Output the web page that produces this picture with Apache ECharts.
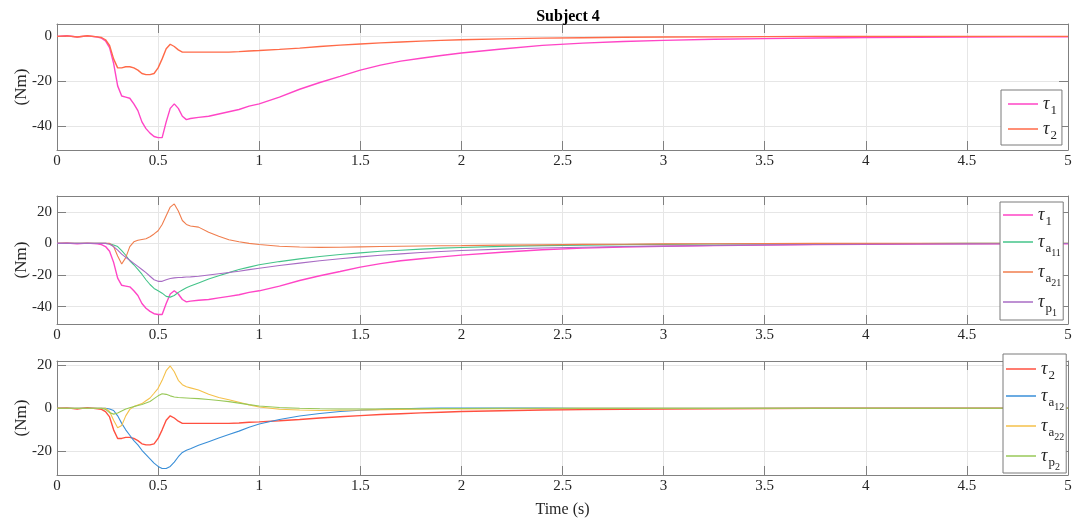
<!DOCTYPE html>
<html><head><meta charset="utf-8">
<script src="https://cdn.jsdelivr.net/npm/echarts@6.0.0/dist/echarts.min.js"></script>
<style>html,body{margin:0;padding:0;background:#fff}#c{width:1074px;height:523px}</style>
</head><body><div id="c"></div>
<script>
// time samples (s)
const T = [0,0.05,0.1,0.15,0.2,0.22,0.24,0.26,0.28,0.3,0.32,0.34,0.36,0.38,0.4,0.42,0.44,0.46,0.48,0.5,0.52,0.54,0.56,0.58,0.6,0.62,0.64,0.66,0.7,0.75,0.8,0.85,0.9,0.95,1.0,1.1,1.2,1.3,1.4,1.5,1.6,1.7,1.8,1.9,2.0,2.2,2.4,2.6,2.8,3.0,3.25,3.5,3.75,4.0,4.25,4.5,4.75,5.0];
// torques (Nm)
const tau1 = [0,0.3,-0.3,0.2,-0.3,-0.8,-2,-5,-12,-22,-26.5,-27,-27.5,-30,-33,-38,-41,-43,-44.5,-45,-45,-38,-32,-30,-32,-35.5,-37,-36.5,-36,-35.5,-34.5,-33.5,-32.5,-31,-30,-27,-23.5,-20.5,-17.8,-15,-12.8,-11,-9.7,-8.5,-7.4,-5.6,-4,-3,-2.3,-1.8,-1.3,-1,-0.7,-0.5,-0.4,-0.3,-0.2,-0.2];
const tau2 = [0,0.2,-0.3,0.3,-0.2,-0.5,-1.5,-4,-10,-14,-14,-13.5,-13.5,-14,-15,-16.5,-17,-17,-16.5,-14,-10,-5.5,-3.5,-4.5,-6,-7,-7,-7,-7,-7,-7,-7,-6.8,-6.5,-6.3,-5.8,-5.2,-4.5,-3.9,-3.4,-2.9,-2.5,-2.1,-1.8,-1.5,-1.1,-0.8,-0.6,-0.4,-0.3,-0.2,-0.1,0,0,0,0,0,0];
const tauA11 = [0,0,0,0,0,0,0,-0.2,-1,-2,-4.5,-7.5,-11,-13.5,-16.5,-19.5,-23,-26,-28.5,-30,-31.5,-33.5,-34,-33,-31,-29.5,-28,-27,-25,-22.5,-20.5,-18.5,-16.5,-15,-13.5,-11.5,-9.8,-8.3,-7,-6,-5,-4.3,-3.6,-3,-2.6,-1.9,-1.4,-1.1,-0.8,-0.6,-0.4,-0.3,-0.2,-0.1,-0.1,0,0,0];
const tauA21 = [0,0,0,0,0,0,0,0,-2,-8,-13,-9,-2,1,2,2.5,3,4.2,6,8,12,17.5,23,25,20.5,14.5,12,11,10.3,7,4.5,2.3,1,0,-0.7,-1.8,-2.3,-2.5,-2.4,-2.2,-2,-1.8,-1.6,-1.5,-1.4,-1.1,-0.9,-0.6,-0.5,-0.3,-0.2,-0.1,0,0,0,0,0,0];
const tauP1 = [0,0,0,0,0,0,0,-0.5,-2,-4.2,-6.8,-8.8,-10.7,-12.6,-14.5,-16.5,-18.5,-20.8,-23,-24,-24,-23,-22.2,-21.8,-21.6,-21.5,-21.3,-21.2,-20.8,-20,-19.2,-18.4,-17.6,-16.6,-15.7,-14,-12.5,-11,-9.7,-8.5,-7.5,-6.6,-5.8,-5.1,-4.5,-3.6,-2.9,-2.4,-2,-1.7,-1.3,-1,-0.7,-0.5,-0.4,-0.3,-0.2,-0.1];
const tauA12 = [0,0,0,0,0,0,0,-0.3,-1,-3.5,-7,-10,-12.5,-15,-17,-19.5,-21.5,-23.5,-25.5,-27,-28,-28,-27,-25,-22.5,-20.5,-19.5,-18.8,-17.2,-15.5,-13.8,-12.2,-10.6,-8.8,-7.3,-5.2,-3.6,-2.4,-1.5,-0.9,-0.5,-0.2,0,0.1,0.1,0.1,0.1,0,0,0,0,0,0,0,0,0,0,0];
const tauA22 = [0,0,0,0,0,0,0,-1.5,-5.5,-9,-8,-3.5,-0.5,0.8,1.5,2.2,3.5,4.8,7,9.3,13,17.5,19.7,17,13,11,10,9.5,8.5,6.5,5,4,2.8,1.6,0.6,-0.4,-0.8,-1,-0.9,-0.8,-0.6,-0.5,-0.4,-0.3,-0.3,-0.2,-0.1,0,0,0,0,0,0,0,0,0,0,0];
const tauP2 = [0,0,0,0,0,0,-0.5,-2,-2.7,-2.2,-1.2,-0.3,0.3,0.8,1.3,1.8,2.5,3.2,4.5,5.8,6.8,6.5,5.8,5.3,5,4.9,4.8,4.7,4.5,4.1,3.6,3.1,2.4,1.7,1.1,0.4,0,-0.2,-0.3,-0.3,-0.3,-0.2,-0.2,-0.1,-0.1,0,0,0,0,0,0,0,0,0,0,0,0,0];
// ticks
const yTicks1 = [-40,-20,0];
const yTicks2 = [-40,-20,0,20];
const yTicks3 = [-20,0,20];
// text
const titleText = 'Subject 4';
const yName = '(Nm)';
const xName = 'Time (s)';

const FONT = 'Liberation Serif';
const AX = '#808080';
const TXT = '#262626';
const GRIDC = '#e6e6e6';

const grids = [
  {left:57, right:6, top:24, height:126, outerBoundsMode:'none'},
  {left:57, right:6, top:196, height:128, outerBoundsMode:'none'},
  {left:57, right:6, top:361, height:114, outerBoundsMode:'none'}
];
const yRanges = [[-50.5,5.5,yTicks1],[-51,30,yTicks2],[-31,22,yTicks3]];

const xAxes = [], yAxes = [];
grids.forEach((g,i)=>{
  const base = {gridIndex:i, type:'value', min:0, max:5, interval:0.5,
    axisLine:{show:true,onZero:false,lineStyle:{color:AX,width:1}},
    axisTick:{show:true,inside:true,length:9,lineStyle:{color:AX}}};
  xAxes.push(Object.assign({}, base, {position:'bottom',
    axisLabel:{show:true,margin:4,fontFamily:FONT,fontSize:15,color:TXT},
    splitLine:{show:true,lineStyle:{color:GRIDC,width:1}},
    name: i===2 ? xName : '', nameLocation:'middle', nameGap:27, nameMoveOverlap:false,
    nameTextStyle:{fontFamily:FONT,fontSize:16,color:TXT}}));
  xAxes.push(Object.assign({}, base, {position:'top', axisLabel:{show:false}, splitLine:{show:false}}));
  const [mn,mx,tk] = yRanges[i];
  const yb = {gridIndex:i, type:'value', min:mn, max:mx,
    axisLine:{show:true,onZero:false,lineStyle:{color:AX,width:1}},
    axisTick:{show:true,inside:true,length:9,customValues:tk,lineStyle:{color:AX}}};
  yAxes.push(Object.assign({}, yb, {position:'left',
    axisLabel:{show:true,margin:5,customValues:tk,fontFamily:FONT,fontSize:15,color:TXT},
    splitLine:{show:true,lineStyle:{color:GRIDC,width:1}},
    name:yName, nameLocation:'middle', nameRotate:90, nameGap:27, nameMoveOverlap:false,
    nameTextStyle:{fontFamily:FONT,fontSize:17,color:TXT}}));
  yAxes.push(Object.assign({}, yb, {position:'right', axisLabel:{show:false}, splitLine:{show:false}}));
});

const pts = arr => T.map((t,i)=>[t,arr[i]]);
const S = (name, arr, color, gi, w) => ({name, type:'line', xAxisIndex:gi*2, yAxisIndex:gi*2,
  data:pts(arr), symbol:'none', showSymbol:false, animation:false,
  lineStyle:{width:w||1.1,color}, itemStyle:{color}});

const C = {t1:'#ff45c6', t2a:'#ff6a48', a11:'#45c48a', a21:'#f07e4e', p1:'#a86cc4',
           t2b:'#ff5040', a12:'#3a8fd8', a22:'#f5c04a', p2:'#98c858'};

const series = [
  S('tau1_1', tau1, C.t1, 0, 1.4),
  S('tau2_1', tau2, C.t2a, 0, 1.4),
  S('tau1_2', tau1, C.t1, 1, 1.4),
  S('tauA11', tauA11, C.a11, 1),
  S('tauA21', tauA21, C.a21, 1),
  S('tauP1', tauP1, C.p1, 1),
  S('tau2_3', tau2, C.t2b, 2, 1.4),
  S('tauA12', tauA12, C.a12, 2),
  S('tauA22', tauA22, C.a22, 2),
  S('tauP2', tauP2, C.p2, 2)
];

const labelMap = {
  'tau1_1':'{t|τ}{s|1}', 'tau2_1':'{t|τ}{s|2}',
  'tau1_2':'{t|τ}{s|1}', 'tauA11':'{t|τ}{s|a}{ss|11}', 'tauA21':'{t|τ}{s|a}{ss|21}', 'tauP1':'{t|τ}{s|p}{ss|1}',
  'tau2_3':'{t|τ}{s|2}', 'tauA12':'{t|τ}{s|a}{ss|12}', 'tauA22':'{t|τ}{s|a}{ss|22}', 'tauP2':'{t|τ}{s|p}{ss|2}'
};
const rich = {
  t:{fontFamily:FONT,fontStyle:'italic',fontSize:18,color:TXT,lineHeight:18,verticalAlign:'top'},
  s:{fontFamily:FONT,fontSize:13,color:TXT,lineHeight:13,padding:[9,0,0,1],verticalAlign:'top'},
  ss:{fontFamily:FONT,fontSize:10,color:TXT,lineHeight:10,padding:[15,0,0,0],verticalAlign:'top'}
};
const mkLegend = (names, left, top, gap, pad) => ({
  show:true, orient:'vertical', left, top, data:names, icon:'rect', itemWidth:30, itemHeight:1.5, itemGap:gap, itemTextGap:3,
  padding:pad, backgroundColor:'#fff', borderColor:'#7a7a7a', borderWidth:1,
  formatter: n => labelMap[n], textStyle:{rich}, selectedMode:false
});

const option = {
  animation:false,
  backgroundColor:'#fff',
  title:{text:titleText, left:563, textAlign:'center', top:4,
    textStyle:{fontFamily:FONT,fontSize:16,fontWeight:'bold',color:'#000'}},
  grid:grids,
  xAxis:xAxes, yAxis:yAxes,
  legend:[
    mkLegend(['tau1_1','tau2_1'], 1001, 90, 3, [5,5,3,7]),
    mkLegend(['tau1_2','tauA11','tauA21','tauP1'], 1000, 202, 5, [4,2,2,3]),
    mkLegend(['tau2_3','tauA12','tauA22','tauP2'], 1003, 354, 5, [6,2,1,3])
  ],
  series
};
const chart = echarts.init(document.getElementById('c'), null, {renderer:'canvas'});
chart.setOption(option);
</script></body></html>
